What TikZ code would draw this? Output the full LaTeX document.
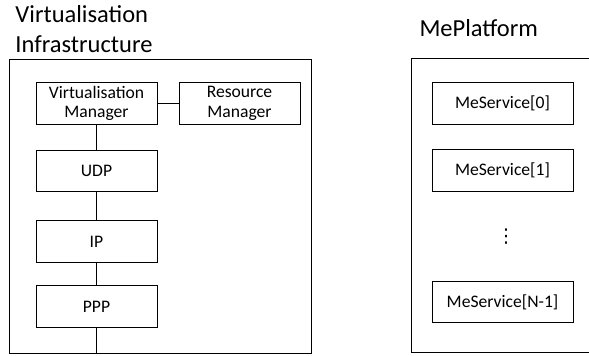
\documentclass[tikz,border=0pt]{standalone}
\usepackage{fontspec}
\setmainfont{Carlito}
\newfontfamily\symfont{DejaVu Sans}
\begin{document}
\begin{tikzpicture}[x=1pt, y=-1pt,
  line width=1pt,
  title/.style={inner sep=0pt, align=left, font=\fontsize{24.5}{30}\selectfont},
  frame/.style={draw, inner sep=0pt, minimum width=#1, minimum height=294pt},
  blockbox/.style={draw, inner sep=0pt, align=center, minimum width=#1, minimum height=41.5pt,
    font=\fontsize{17.6}{19.5}\selectfont},
  blockbox/.default=121pt,
  link/.style={draw}]
  \clip (0,0) rectangle (589,356);

  % Left container: virtualisation infrastructure
  \node[title, anchor=north west] (vititle) at (15,5) {Virtualisation\\Infrastructure};
  \node[frame=302pt] (infra) at (160,206) {};
  \node[blockbox] (vm)  at (96.5,103.5) {Virtualisation\\Manager};
  \node[blockbox] (rm)  at (239.5,103.5) {Resource\\Manager};
  \node[blockbox] (udp) at (96.5,171) {UDP};
  \node[blockbox] (ip)  at (96.5,241.5) {IP};
  \node[blockbox] (ppp) at (96.5,306.5) {PPP};

  \draw[link] (vm) -- (rm);
  \draw[link] (vm) -- (udp);
  \draw[link] (udp) -- (ip);
  \draw[link] (ip) -- (ppp);
  \draw[link] (ppp.south) -- (ppp.south |- infra.south);

  % Right container: platform with its services
  \node[title, anchor=base west] (mptitle) at (419,36) {MePlatform};
  \node[frame=220pt] (platform) at (521,205) {};
  \node[blockbox=141pt] (s0) at (502.5,103.5) {MeService[0]};
  \node[blockbox=141pt] (s1) at (502.5,170.5) {MeService[1]};
  \node[inner sep=0pt, font=\symfont\fontsize{19}{20}\selectfont] (dots) at (506,237) {⋮};
  \node[blockbox=141pt] (sn) at (502.5,302) {MeService[N-1]};
\end{tikzpicture}
\end{document}
